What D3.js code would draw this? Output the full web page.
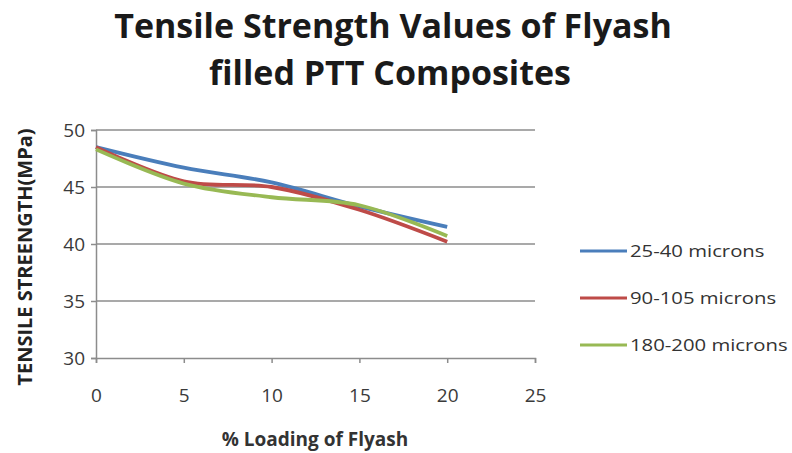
<!DOCTYPE html>
<html>
<head>
<meta charset="utf-8">
<script src="https://cdn.jsdelivr.net/npm/d3@7"></script>
<style>
  body { margin: 0; background: #fff; }
  svg text { font-family: "Open Sans", "Liberation Sans", sans-serif; }
</style>
</head>
<body>
<svg id="chart" width="792" height="453"></svg>
<script>
// data
let loading = [0, 5, 10, 15, 20];
let seriesNames = ["25-40 microns", "90-105 microns", "180-200 microns"];
let seriesColors = ["#4a7ebb", "#be4b48", "#98b954"];
let blueVals = [48.5, 46.7, 45.4, 43.3, 41.5];
let redVals = [48.5, 45.5, 45.0, 43.0, 40.2];
let greenVals = [48.3, 45.3, 44.1, 43.4, 40.7];
let yTicks = [30, 35, 40, 45, 50];
let xTicks = [0, 5, 10, 15, 20, 25];

let allSeries = [blueVals, redVals, greenVals];

var svg = d3.select("#chart");

// plot area
let plotLeft = 96, plotRight = 535, plotTop = 130, plotBottom = 358;

let x = d3.scaleLinear().domain([0, 25]).range([plotLeft, plotRight]);
let y = d3.scaleLinear().domain([30, 50]).range([plotBottom, plotTop]);

// title
svg.append("text")
    .attr("x", 393).attr("y", 38)
    .attr("text-anchor", "middle")
    .attr("font-size", 34).attr("font-weight", "bold")
    .attr("fill", "#1a1a1a")
    .text("Tensile Strength Values of Flyash");
svg.append("text")
    .attr("x", 390).attr("y", 85)
    .attr("text-anchor", "middle")
    .attr("font-size", 34).attr("font-weight", "bold")
    .attr("fill", "#1a1a1a")
    .text("filled PTT Composites");

// gridlines
svg.append("g")
    .selectAll("line")
    .data(yTicks.filter(d => d > 30))
    .enter().append("line")
    .attr("x1", plotLeft).attr("x2", plotRight)
    .attr("y1", d => y(d)).attr("y2", d => y(d))
    .attr("stroke", "#8c8c8c").attr("stroke-width", 1.5);

// y axis
var yAxis = svg.append("g")
    .attr("transform", "translate(" + plotLeft + ",0)")
    .call(d3.axisLeft(y).tickValues(yTicks).tickSize(5).tickPadding(6));
yAxis.select(".domain").attr("stroke", "#8c8c8c").attr("stroke-width", 1.5);
yAxis.selectAll(".tick line").attr("stroke", "#8c8c8c").attr("stroke-width", 1.5);
yAxis.selectAll("text").attr("font-size", 19).attr("fill", "#3a3a3a")
    .style("font-family", "'Open Sans', sans-serif");

// x axis
var xAxis = svg.append("g")
    .attr("transform", "translate(0," + plotBottom + ")")
    .call(d3.axisBottom(x).tickValues(xTicks).tickSize(5).tickPadding(26));
xAxis.select(".domain").attr("stroke", "#8c8c8c").attr("stroke-width", 1.5);
xAxis.selectAll(".tick line").attr("stroke", "#8c8c8c").attr("stroke-width", 1.5);
xAxis.selectAll("text").attr("font-size", 19).attr("fill", "#3a3a3a")
    .style("font-family", "'Open Sans', sans-serif");

// axis titles
svg.append("text")
    .attr("transform", "translate(32,257) rotate(-90)")
    .attr("text-anchor", "middle")
    .attr("font-size", 20).attr("font-weight", "bold")
    .attr("fill", "#222")
    .text("TENSILE STREENGTH(MPa)");
svg.append("text")
    .attr("x", 315).attr("y", 446)
    .attr("text-anchor", "middle")
    .attr("font-size", 19).attr("font-weight", "bold")
    .attr("fill", "#333")
    .text("% Loading of Flyash");

// lines
let line = d3.line()
    .x((d, i) => x(loading[i]))
    .y(d => y(d))
    .curve(d3.curveCatmullRom.alpha(0));

svg.append("g")
    .selectAll("path")
    .data(allSeries)
    .enter().append("path")
    .attr("d", line)
    .attr("fill", "none")
    .attr("stroke", (d, i) => seriesColors[i])
    .attr("stroke-width", 3.8)
    .attr("stroke-linejoin", "round");

// legend
var legend = svg.append("g")
    .selectAll("g")
    .data(seriesNames)
    .enter().append("g")
    .attr("transform", (d, i) => "translate(580," + (251 + i * 47) + ")");
legend.append("line")
    .attr("x1", 0).attr("x2", 47)
    .attr("stroke", (d, i) => seriesColors[i])
    .attr("stroke-width", 3);
legend.append("text")
    .attr("transform", "translate(50,6) scale(1.27,1)")
    .attr("font-size", 16).attr("fill", "#333")
    .text(d => d);
</script>
</body>
</html>
